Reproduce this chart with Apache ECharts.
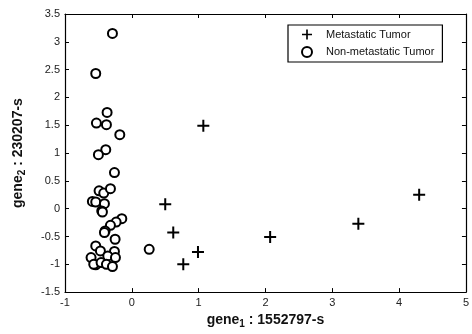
<!DOCTYPE html>
<html>
<head>
<meta charset="utf-8">
<script src="https://cdn.jsdelivr.net/npm/echarts@6/dist/echarts.min.js"></script>
<style>html,body{margin:0;padding:0;background:#fff}#c{width:472px;height:334px}</style>
</head>
<body>
<div id="c"></div>
<script>
const seriesNames = ['Metastatic Tumor', 'Non-metastatic Tumor'];
const metastatic = [
  [1.07, 1.49], [0.50, 0.08], [0.62, -0.43], [0.99, -0.78], [0.77, -1.00],
  [2.07, -0.51], [3.39, -0.27], [4.30, 0.25]
];
const nonMetastatic = [
  [-0.29, 3.15], [-0.54, 2.43], [-0.37, 1.73], [-0.53, 1.54], [-0.38, 1.51],
  [-0.18, 1.33], [-0.39, 1.06], [-0.50, 0.97], [-0.26, 0.65], [-0.49, 0.32],
  [-0.42, 0.28], [-0.32, 0.36], [-0.59, 0.13], [-0.54, 0.12], [-0.41, 0.09],
  [-0.45, -0.04], [-0.44, -0.06], [-0.15, -0.18], [-0.235, -0.24], [-0.32, -0.30],
  [-0.40, -0.40], [-0.41, -0.43], [-0.25, -0.55], [-0.54, -0.67], [-0.47, -0.76],
  [-0.26, -0.77], [-0.36, -0.85], [-0.245, -0.88], [-0.61, -0.88], [-0.54, -1.01],
  [-0.57, -1.00], [-0.46, -0.97], [-0.38, -1.00], [-0.29, -1.04], [0.26, -0.73]
];
const xRange = [-1, 5, 1];
const yRange = [-1.5, 3.5, 0.5];

const chart = echarts.init(document.getElementById('c'), null, {renderer: 'canvas'});
const tickStyle = {show: true, inside: true, length: 4, lineStyle: {color: '#000', width: 1}};
const lineStyle = {show: true, onZero: false, lineStyle: {color: '#000', width: 1.2}};
const labelStyle = {color: '#222', fontSize: 11, fontFamily: 'Liberation Sans, Arial, sans-serif'};
const nameFont = {fontFamily: 'Liberation Sans, Arial, sans-serif', fontWeight: 'bold', color: '#111'};
const plusPath = 'path://M5,0H7V5H12V7H7V12H5V7H0V5H5Z';

chart.setOption({
  animation: false,
  backgroundColor: '#fff',
  grid: {left: 65, top: 14, width: 408, height: 281, show: false},
  legend: {
    orient: 'vertical', left: 288, top: 25,
    padding: [4, 8, 4, 13], itemWidth: 28, itemHeight: 10, itemGap: 6,
    backgroundColor: '#fff', borderColor: '#000', borderWidth: 1.2,
    textStyle: {fontSize: 11, color: '#111', fontFamily: 'Liberation Sans, Arial, sans-serif'},
    data: seriesNames
  },
  xAxis: [{
    type: 'value', min: xRange[0], max: xRange[1], interval: xRange[2],
    axisLine: lineStyle, axisTick: tickStyle, splitLine: {show: false},
    axisLabel: Object.assign({margin: 5}, labelStyle),
    name: '{a|gene}{s|1}{a| : 1552797-s}', nameLocation: 'middle', nameGap: 18,
    nameTextStyle: {rich: {
      a: Object.assign({fontSize: 14}, nameFont),
      s: Object.assign({fontSize: 10, padding: [8, 0, 0, 0]}, nameFont)
    }}
  }, {
    type: 'value', position: 'top', min: xRange[0], max: xRange[1], interval: xRange[2],
    axisLine: lineStyle, axisTick: tickStyle, splitLine: {show: false}, axisLabel: {show: false}
  }],
  yAxis: [{
    type: 'value', min: yRange[0], max: yRange[1], interval: yRange[2],
    axisLine: lineStyle, axisTick: tickStyle, splitLine: {show: false},
    axisLabel: Object.assign({margin: 5}, labelStyle),
    name: '{a|gene}{s|2}{a| : 230207-s}', nameLocation: 'middle', nameGap: 38, nameRotate: 90,
    nameTextStyle: {rich: {
      a: Object.assign({fontSize: 14}, nameFont),
      s: Object.assign({fontSize: 10, padding: [8, 0, 0, 0]}, nameFont)
    }}
  }, {
    type: 'value', position: 'right', min: yRange[0], max: yRange[1], interval: yRange[2],
    axisLine: lineStyle, axisTick: tickStyle, splitLine: {show: false}, axisLabel: {show: false}
  }],
  series: [{
    name: seriesNames[0], type: 'scatter', data: metastatic,
    symbol: plusPath, symbolSize: 12,
    itemStyle: {color: '#000', opacity: 1}
  }, {
    name: seriesNames[1], type: 'scatter', data: nonMetastatic,
    symbol: 'emptyCircle', symbolSize: 9,
    itemStyle: {color: '#000', borderColor: '#000', borderWidth: 1.8, opacity: 1}
  }]
});
</script>
</body>
</html>
